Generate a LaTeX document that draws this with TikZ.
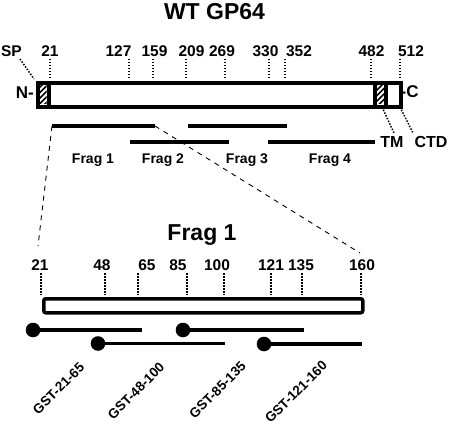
\documentclass[tikz,border=0pt]{standalone}
\usepackage{fontspec}
\setmainfont{Liberation Sans}
\begin{document}
\begin{tikzpicture}[x=1pt,y=-1pt,
  num/.style={font=\fontsize{15.5}{18}\selectfont\bfseries, inner sep=0pt, anchor=base},
  lbl/.style={font=\fontsize{16}{19}\selectfont\bfseries, inner sep=0pt, anchor=base},
  fraglbl/.style={font=\fontsize{14}{17}\selectfont\bfseries, inner sep=0pt, anchor=base},
  title/.style={font=\fontsize{23}{27}\selectfont\bfseries, inner sep=0pt, anchor=base},
  gst/.style={font=\fontsize{13.5}{16}\selectfont\bfseries, inner sep=0pt, rotate=45},
  dotline/.style={line width=1.5pt, dash pattern=on 1.5pt off 1.5pt},
  dashline/.style={line width=0.9pt, dash pattern=on 5pt off 5pt},
  fragline/.style={line width=4pt},
  gstline/.style={line width=3.3pt},
  hatch/.style={line width=1.5pt}
]
\useasboundingbox (0,0) rectangle (450,428);

% Title
\node[title] (t1) at (214.5,20) {WT GP64};

% Main bar
\node[draw, line width=4pt, minimum width=363.5pt, minimum height=24pt, inner sep=0pt, anchor=north west] (bar) at (35.5,81) {};
\coordinate (spT) at (48.5,81); \coordinate (spB) at (48.5,105);
\draw[line width=4pt] (spT) -- (spB);
\coordinate (tmlT) at (375,81); \coordinate (tmlB) at (375,105);
\draw[line width=4pt] (tmlT) -- (tmlB);
\coordinate (tmrT) at (386,81); \coordinate (tmrB) at (386,105);
\draw[line width=4pt] (tmrT) -- (tmrB);
% hatches
\begin{scope}
\clip (37.5,83) rectangle (46.5,103);
\foreach \k in {0,5.5,...,44} \draw[hatch] (\k+10,106) -- (\k+36,80);
\end{scope}
\begin{scope}
\clip (377,83) rectangle (384,103);
\foreach \k in {0,5.5,...,44} \draw[hatch] (\k+350,106) -- (\k+376,80);
\end{scope}

% top ticks
\foreach \tx/\lab/\lx in {50/21/50, 129/127/118.5, 153/159/154.5, 186/209/191.5, 225/269/222, 269/330/265.5, 285/352/299, 371/482/371.5, 400/512/411}{
  \node[num] (n\lab) at (\lx,57) {\lab};
  \coordinate (ta\lab) at (\tx,59);
  \coordinate (tb\lab) at (\tx,79);
  \draw[dotline] (ta\lab) -- (tb\lab);
}

% SP, N, C, TM, CTD
\node[num] (sp) at (11.5,57) {SP};
\coordinate (spc) at (34,79);
\coordinate (spa) at (20,59);
\draw[dotline] (spa) -- (spc);
\node[font=\fontsize{17}{20}\selectfont\bfseries, inner sep=0pt, anchor=base east] (nterm) at (34,98.5) {N-};
\node[font=\fontsize{17}{20}\selectfont\bfseries, inner sep=0pt, anchor=base west] (cterm) at (400.5,98) {-C};
\node[lbl] (tm) at (392,147) {TM};
\node[lbl] (ctd) at (431,147) {CTD};
\coordinate (tmA) at (382,107); \coordinate (tmZ) at (394,133);
\coordinate (ctA) at (400,107); \coordinate (ctZ) at (413,133);
\draw[dotline] (tmA) -- (tmZ);
\draw[dotline] (ctA) -- (ctZ);

% fragments
\coordinate (f1a) at (52,126); \coordinate (f1b) at (155,126);
\coordinate (f3a) at (188,126); \coordinate (f3b) at (287,126);
\coordinate (f2a) at (130,142); \coordinate (f2b) at (229,142);
\coordinate (f4a) at (268,142); \coordinate (f4b) at (375,142);
\draw[fragline] (f1a) -- (f1b);
\draw[fragline] (f3a) -- (f3b);
\draw[fragline] (f2a) -- (f2b);
\draw[fragline] (f4a) -- (f4b);
\node[fraglbl] (fl1) at (93,163) {Frag 1};
\node[fraglbl] (fl2) at (163,163) {Frag 2};
\node[fraglbl] (fl3) at (247,163) {Frag 3};
\node[fraglbl] (fl4) at (330,163) {Frag 4};

% zoom dashed lines
\coordinate (zl) at (38,246);
\coordinate (zr) at (360,253);
\draw[dashline] (f1a) -- (zl);
\draw[dashline] (f1b) -- (zr);

% Frag 1 detail
\node[title] (t2) at (202,240) {Frag 1};
\node[draw, line width=3.5pt, rounded corners=2pt, minimum width=319pt, minimum height=14pt, inner sep=0pt, anchor=north west] (fbar) at (42,297) {};
\foreach \tx/\lab/\lx in {41/21/40, 105/48/102, 138/65/147, 187/85/178, 224/100/217, 271/121/271, 302/135/301, 361/160/362}{
  \node[num] (m\lab) at (\lx,270) {\lab};
  \coordinate (ma\lab) at (\tx,273);
  \coordinate (mb\lab) at (\tx,295);
  \draw[dotline] (ma\lab) -- (mb\lab);
}

% GST constructs
\foreach \cx/\cy/\ex/\nm in {33/330/142/a, 98/343.5/225/b, 183/330/304/c, 264/344/362/d}{
  \node[circle, fill=black, minimum size=14.6pt, inner sep=0pt] (g\nm) at (\cx,\cy) {};
  \coordinate (ge\nm) at (\ex,\cy);
  \draw[gstline] (g\nm.center) -- (ge\nm);
}
\node[gst] (gl1) at (58.5,388.5) {GST-21-65};
\node[gst] (gl2) at (136,391) {GST-48-100};
\node[gst] (gl3) at (217.5,390) {GST-85-135};
\node[gst] (gl4) at (296,392) {GST-121-160};
\end{tikzpicture}
\end{document}
